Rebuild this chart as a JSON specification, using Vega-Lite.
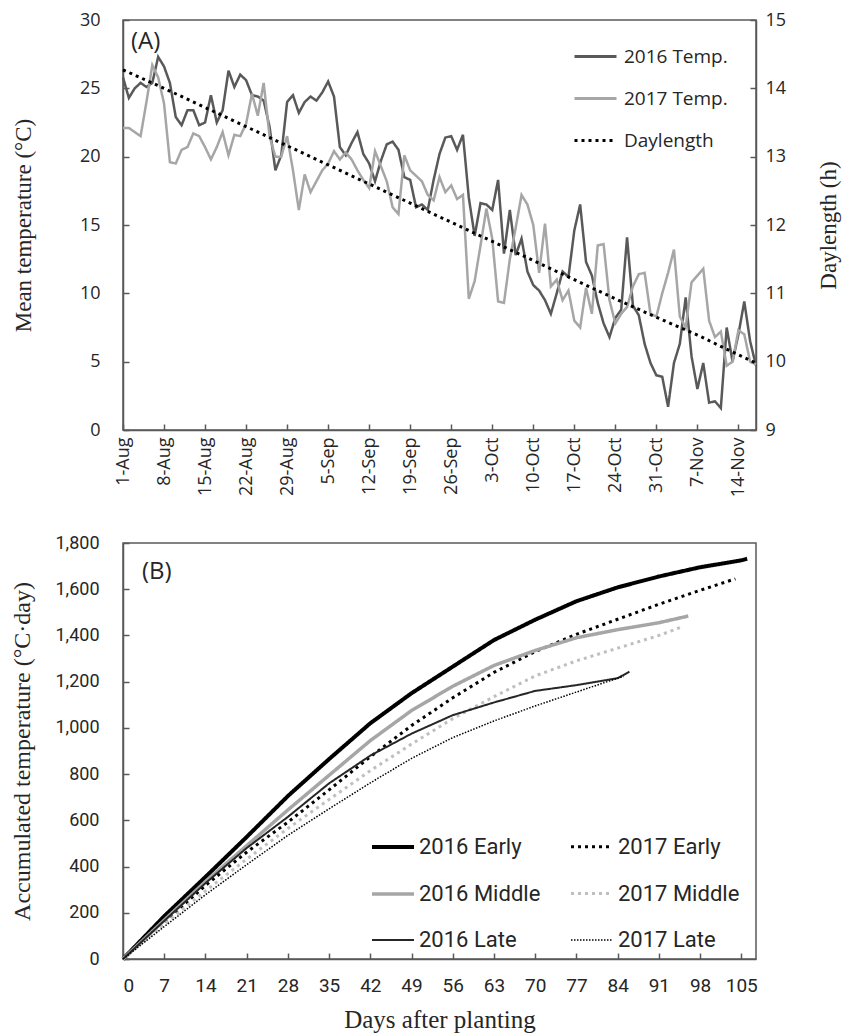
{
"$schema": "https://vega.github.io/schema/vega-lite/v6.json",
"background": "white",
"padding": {"left": 10, "top": 10, "right": 0, "bottom": 0},
"spacing": 113,
"bounds": "flush",
"resolve": {"scale": {"color": "independent", "strokeDash": "independent", "strokeWidth": "independent"}, "legend": {"color": "independent", "strokeDash": "independent", "strokeWidth": "independent"}},
"datasets": {
"temp": [
{"day":0,"series":"2016 Temp.","v":25.8},{"day":1,"series":"2016 Temp.","v":24.3},{"day":2,"series":"2016 Temp.","v":25.0},{"day":3,"series":"2016 Temp.","v":25.4},{"day":4,"series":"2016 Temp.","v":25.1},{"day":5,"series":"2016 Temp.","v":25.4},{"day":6,"series":"2016 Temp.","v":27.3},{"day":7,"series":"2016 Temp.","v":26.6},{"day":8,"series":"2016 Temp.","v":25.4},{"day":9,"series":"2016 Temp.","v":22.9},
{"day":10,"series":"2016 Temp.","v":22.3},{"day":11,"series":"2016 Temp.","v":23.4},{"day":12,"series":"2016 Temp.","v":23.4},{"day":13,"series":"2016 Temp.","v":22.3},{"day":14,"series":"2016 Temp.","v":22.5},{"day":15,"series":"2016 Temp.","v":24.5},{"day":16,"series":"2016 Temp.","v":22.5},{"day":17,"series":"2016 Temp.","v":23.4},{"day":18,"series":"2016 Temp.","v":26.3},{"day":19,"series":"2016 Temp.","v":25.1},
{"day":20,"series":"2016 Temp.","v":26.0},{"day":21,"series":"2016 Temp.","v":25.6},{"day":22,"series":"2016 Temp.","v":24.5},{"day":23,"series":"2016 Temp.","v":24.4},{"day":24,"series":"2016 Temp.","v":24.1},{"day":25,"series":"2016 Temp.","v":22.2},{"day":26,"series":"2016 Temp.","v":19.0},{"day":27,"series":"2016 Temp.","v":20.1},{"day":28,"series":"2016 Temp.","v":24.0},{"day":29,"series":"2016 Temp.","v":24.5},
{"day":30,"series":"2016 Temp.","v":23.2},{"day":31,"series":"2016 Temp.","v":24.0},{"day":32,"series":"2016 Temp.","v":24.4},{"day":33,"series":"2016 Temp.","v":24.1},{"day":34,"series":"2016 Temp.","v":24.7},{"day":35,"series":"2016 Temp.","v":25.5},{"day":36,"series":"2016 Temp.","v":24.4},{"day":37,"series":"2016 Temp.","v":20.7},{"day":38,"series":"2016 Temp.","v":20.1},{"day":39,"series":"2016 Temp.","v":21.0},
{"day":40,"series":"2016 Temp.","v":21.8},{"day":41,"series":"2016 Temp.","v":20.2},{"day":42,"series":"2016 Temp.","v":19.5},{"day":43,"series":"2016 Temp.","v":18.2},{"day":44,"series":"2016 Temp.","v":19.7},{"day":45,"series":"2016 Temp.","v":20.9},{"day":46,"series":"2016 Temp.","v":21.1},{"day":47,"series":"2016 Temp.","v":20.5},{"day":48,"series":"2016 Temp.","v":18.5},{"day":49,"series":"2016 Temp.","v":18.3},
{"day":50,"series":"2016 Temp.","v":16.3},{"day":51,"series":"2016 Temp.","v":16.5},{"day":52,"series":"2016 Temp.","v":16.1},{"day":53,"series":"2016 Temp.","v":18.3},{"day":54,"series":"2016 Temp.","v":20.2},{"day":55,"series":"2016 Temp.","v":21.4},{"day":56,"series":"2016 Temp.","v":21.5},{"day":57,"series":"2016 Temp.","v":20.5},{"day":58,"series":"2016 Temp.","v":21.6},{"day":59,"series":"2016 Temp.","v":17.0},
{"day":60,"series":"2016 Temp.","v":14.2},{"day":61,"series":"2016 Temp.","v":16.6},{"day":62,"series":"2016 Temp.","v":16.5},{"day":63,"series":"2016 Temp.","v":16.1},{"day":64,"series":"2016 Temp.","v":18.3},{"day":65,"series":"2016 Temp.","v":12.9},{"day":66,"series":"2016 Temp.","v":16.1},{"day":67,"series":"2016 Temp.","v":12.8},{"day":68,"series":"2016 Temp.","v":14.0},{"day":69,"series":"2016 Temp.","v":11.6},
{"day":70,"series":"2016 Temp.","v":10.6},{"day":71,"series":"2016 Temp.","v":10.2},{"day":72,"series":"2016 Temp.","v":9.5},{"day":73,"series":"2016 Temp.","v":8.5},{"day":74,"series":"2016 Temp.","v":10.0},{"day":75,"series":"2016 Temp.","v":11.6},{"day":76,"series":"2016 Temp.","v":11.2},{"day":77,"series":"2016 Temp.","v":14.6},{"day":78,"series":"2016 Temp.","v":16.5},{"day":79,"series":"2016 Temp.","v":12.3},
{"day":80,"series":"2016 Temp.","v":11.3},{"day":81,"series":"2016 Temp.","v":9.3},{"day":82,"series":"2016 Temp.","v":7.8},{"day":83,"series":"2016 Temp.","v":6.8},{"day":84,"series":"2016 Temp.","v":8.2},{"day":85,"series":"2016 Temp.","v":8.8},{"day":86,"series":"2016 Temp.","v":14.1},{"day":87,"series":"2016 Temp.","v":9.1},{"day":88,"series":"2016 Temp.","v":8.4},{"day":89,"series":"2016 Temp.","v":6.3},
{"day":90,"series":"2016 Temp.","v":4.9},{"day":91,"series":"2016 Temp.","v":4.0},{"day":92,"series":"2016 Temp.","v":3.9},{"day":93,"series":"2016 Temp.","v":1.7},{"day":94,"series":"2016 Temp.","v":4.9},{"day":95,"series":"2016 Temp.","v":6.3},{"day":96,"series":"2016 Temp.","v":9.7},{"day":97,"series":"2016 Temp.","v":5.4},{"day":98,"series":"2016 Temp.","v":3.0},{"day":99,"series":"2016 Temp.","v":4.9},
{"day":100,"series":"2016 Temp.","v":2.0},{"day":101,"series":"2016 Temp.","v":2.1},{"day":102,"series":"2016 Temp.","v":1.6},{"day":103,"series":"2016 Temp.","v":7.5},{"day":104,"series":"2016 Temp.","v":5.0},{"day":105,"series":"2016 Temp.","v":7.0},{"day":106,"series":"2016 Temp.","v":9.4},{"day":107,"series":"2016 Temp.","v":6.5},{"day":108,"series":"2016 Temp.","v":4.7},
{"day":0,"series":"2017 Temp.","v":22.1},{"day":1,"series":"2017 Temp.","v":22.1},{"day":2,"series":"2017 Temp.","v":21.8},{"day":3,"series":"2017 Temp.","v":21.5},{"day":4,"series":"2017 Temp.","v":24.0},{"day":5,"series":"2017 Temp.","v":26.7},{"day":6,"series":"2017 Temp.","v":25.8},{"day":7,"series":"2017 Temp.","v":23.9},{"day":8,"series":"2017 Temp.","v":19.6},{"day":9,"series":"2017 Temp.","v":19.5},
{"day":10,"series":"2017 Temp.","v":20.5},{"day":11,"series":"2017 Temp.","v":20.7},{"day":12,"series":"2017 Temp.","v":21.7},{"day":13,"series":"2017 Temp.","v":21.5},{"day":14,"series":"2017 Temp.","v":20.7},{"day":15,"series":"2017 Temp.","v":19.8},{"day":16,"series":"2017 Temp.","v":20.7},{"day":17,"series":"2017 Temp.","v":21.8},{"day":18,"series":"2017 Temp.","v":20.1},{"day":19,"series":"2017 Temp.","v":21.6},
{"day":20,"series":"2017 Temp.","v":21.5},{"day":21,"series":"2017 Temp.","v":22.4},{"day":22,"series":"2017 Temp.","v":24.6},{"day":23,"series":"2017 Temp.","v":23.0},{"day":24,"series":"2017 Temp.","v":25.4},{"day":25,"series":"2017 Temp.","v":21.5},{"day":26,"series":"2017 Temp.","v":20.0},{"day":27,"series":"2017 Temp.","v":20.0},{"day":28,"series":"2017 Temp.","v":21.5},{"day":29,"series":"2017 Temp.","v":19.0},
{"day":30,"series":"2017 Temp.","v":16.1},{"day":31,"series":"2017 Temp.","v":18.7},{"day":32,"series":"2017 Temp.","v":17.4},{"day":33,"series":"2017 Temp.","v":18.2},{"day":34,"series":"2017 Temp.","v":19.0},{"day":35,"series":"2017 Temp.","v":19.5},{"day":36,"series":"2017 Temp.","v":20.4},{"day":37,"series":"2017 Temp.","v":19.8},{"day":38,"series":"2017 Temp.","v":20.3},{"day":39,"series":"2017 Temp.","v":19.8},
{"day":40,"series":"2017 Temp.","v":19.0},{"day":41,"series":"2017 Temp.","v":18.3},{"day":42,"series":"2017 Temp.","v":17.7},{"day":43,"series":"2017 Temp.","v":20.4},{"day":44,"series":"2017 Temp.","v":19.3},{"day":45,"series":"2017 Temp.","v":18.2},{"day":46,"series":"2017 Temp.","v":16.3},{"day":47,"series":"2017 Temp.","v":15.8},{"day":48,"series":"2017 Temp.","v":20.1},{"day":49,"series":"2017 Temp.","v":19.0},
{"day":50,"series":"2017 Temp.","v":18.6},{"day":51,"series":"2017 Temp.","v":18.2},{"day":52,"series":"2017 Temp.","v":17.2},{"day":53,"series":"2017 Temp.","v":16.8},{"day":54,"series":"2017 Temp.","v":18.5},{"day":55,"series":"2017 Temp.","v":17.4},{"day":56,"series":"2017 Temp.","v":17.9},{"day":57,"series":"2017 Temp.","v":16.9},{"day":58,"series":"2017 Temp.","v":17.2},{"day":59,"series":"2017 Temp.","v":9.6},
{"day":60,"series":"2017 Temp.","v":10.9},{"day":61,"series":"2017 Temp.","v":13.5},{"day":62,"series":"2017 Temp.","v":16.2},{"day":63,"series":"2017 Temp.","v":14.0},{"day":64,"series":"2017 Temp.","v":9.4},{"day":65,"series":"2017 Temp.","v":9.3},{"day":66,"series":"2017 Temp.","v":12.5},{"day":67,"series":"2017 Temp.","v":14.8},{"day":68,"series":"2017 Temp.","v":17.2},{"day":69,"series":"2017 Temp.","v":16.5},
{"day":70,"series":"2017 Temp.","v":15.0},{"day":71,"series":"2017 Temp.","v":11.5},{"day":72,"series":"2017 Temp.","v":15.1},{"day":73,"series":"2017 Temp.","v":10.5},{"day":74,"series":"2017 Temp.","v":11.0},{"day":75,"series":"2017 Temp.","v":9.5},{"day":76,"series":"2017 Temp.","v":10.2},{"day":77,"series":"2017 Temp.","v":8.0},{"day":78,"series":"2017 Temp.","v":7.5},{"day":79,"series":"2017 Temp.","v":10.4},
{"day":80,"series":"2017 Temp.","v":8.5},{"day":81,"series":"2017 Temp.","v":13.5},{"day":82,"series":"2017 Temp.","v":13.6},{"day":83,"series":"2017 Temp.","v":9.5},{"day":84,"series":"2017 Temp.","v":7.8},{"day":85,"series":"2017 Temp.","v":8.5},{"day":86,"series":"2017 Temp.","v":9.0},{"day":87,"series":"2017 Temp.","v":10.5},{"day":88,"series":"2017 Temp.","v":11.4},{"day":89,"series":"2017 Temp.","v":11.5},
{"day":90,"series":"2017 Temp.","v":8.5},{"day":91,"series":"2017 Temp.","v":8.3},{"day":92,"series":"2017 Temp.","v":10.0},{"day":93,"series":"2017 Temp.","v":11.5},{"day":94,"series":"2017 Temp.","v":13.2},{"day":95,"series":"2017 Temp.","v":8.3},{"day":96,"series":"2017 Temp.","v":7.5},{"day":97,"series":"2017 Temp.","v":10.8},{"day":98,"series":"2017 Temp.","v":11.3},{"day":99,"series":"2017 Temp.","v":11.8},
{"day":100,"series":"2017 Temp.","v":8.0},{"day":101,"series":"2017 Temp.","v":6.8},{"day":102,"series":"2017 Temp.","v":7.2},{"day":103,"series":"2017 Temp.","v":4.7},{"day":104,"series":"2017 Temp.","v":5.0},{"day":105,"series":"2017 Temp.","v":7.3},{"day":106,"series":"2017 Temp.","v":7.0},{"day":107,"series":"2017 Temp.","v":5.0},{"day":108,"series":"2017 Temp.","v":4.8}
],
"daylen": [
{"day":0,"series":"Daylength","h":14.27},{"day":7,"series":"Daylength","h":14.0},{"day":14,"series":"Daylength","h":13.72},{"day":21,"series":"Daylength","h":13.44},{"day":28,"series":"Daylength","h":13.16},{"day":35,"series":"Daylength","h":12.88},{"day":42,"series":"Daylength","h":12.6},{"day":49,"series":"Daylength","h":12.32},{"day":56,"series":"Daylength","h":12.04},{"day":63,"series":"Daylength","h":11.76},{"day":70,"series":"Daylength","h":11.48},{"day":77,"series":"Daylength","h":11.2},{"day":84,"series":"Daylength","h":10.92},{"day":91,"series":"Daylength","h":10.65},{"day":98,"series":"Daylength","h":10.39},{"day":105,"series":"Daylength","h":10.1},{"day":108,"series":"Daylength","h":9.98}
],
"accum": [
{"day":0,"series":"2016 Early","acc":0},{"day":7,"series":"2016 Early","acc":185},{"day":14,"series":"2016 Early","acc":355},{"day":21,"series":"2016 Early","acc":528},{"day":28,"series":"2016 Early","acc":705},{"day":35,"series":"2016 Early","acc":865},{"day":42,"series":"2016 Early","acc":1020},{"day":49,"series":"2016 Early","acc":1150},{"day":56,"series":"2016 Early","acc":1265},{"day":63,"series":"2016 Early","acc":1380},{"day":70,"series":"2016 Early","acc":1468},{"day":77,"series":"2016 Early","acc":1548},{"day":84,"series":"2016 Early","acc":1608},{"day":91,"series":"2016 Early","acc":1655},{"day":98,"series":"2016 Early","acc":1695},{"day":105,"series":"2016 Early","acc":1725},{"day":106,"series":"2016 Early","acc":1732},
{"day":0,"series":"2017 Early","acc":0},{"day":7,"series":"2017 Early","acc":160},{"day":14,"series":"2017 Early","acc":318},{"day":21,"series":"2017 Early","acc":462},{"day":28,"series":"2017 Early","acc":592},{"day":35,"series":"2017 Early","acc":732},{"day":42,"series":"2017 Early","acc":875},{"day":49,"series":"2017 Early","acc":1010},{"day":56,"series":"2017 Early","acc":1130},{"day":63,"series":"2017 Early","acc":1240},{"day":70,"series":"2017 Early","acc":1330},{"day":77,"series":"2017 Early","acc":1405},{"day":84,"series":"2017 Early","acc":1470},{"day":91,"series":"2017 Early","acc":1535},{"day":98,"series":"2017 Early","acc":1595},{"day":104,"series":"2017 Early","acc":1645},
{"day":0,"series":"2016 Middle","acc":0},{"day":7,"series":"2016 Middle","acc":168},{"day":14,"series":"2016 Middle","acc":335},{"day":21,"series":"2016 Middle","acc":490},{"day":28,"series":"2016 Middle","acc":645},{"day":35,"series":"2016 Middle","acc":795},{"day":42,"series":"2016 Middle","acc":945},{"day":49,"series":"2016 Middle","acc":1075},{"day":56,"series":"2016 Middle","acc":1180},{"day":63,"series":"2016 Middle","acc":1270},{"day":70,"series":"2016 Middle","acc":1335},{"day":77,"series":"2016 Middle","acc":1390},{"day":84,"series":"2016 Middle","acc":1425},{"day":91,"series":"2016 Middle","acc":1455},{"day":96,"series":"2016 Middle","acc":1484},
{"day":0,"series":"2017 Middle","acc":0},{"day":7,"series":"2017 Middle","acc":150},{"day":14,"series":"2017 Middle","acc":295},{"day":21,"series":"2017 Middle","acc":432},{"day":28,"series":"2017 Middle","acc":565},{"day":35,"series":"2017 Middle","acc":690},{"day":42,"series":"2017 Middle","acc":815},{"day":49,"series":"2017 Middle","acc":930},{"day":56,"series":"2017 Middle","acc":1040},{"day":63,"series":"2017 Middle","acc":1135},{"day":70,"series":"2017 Middle","acc":1225},{"day":77,"series":"2017 Middle","acc":1290},{"day":84,"series":"2017 Middle","acc":1345},{"day":91,"series":"2017 Middle","acc":1400},{"day":95,"series":"2017 Middle","acc":1438},
{"day":0,"series":"2016 Late","acc":0},{"day":7,"series":"2016 Late","acc":165},{"day":14,"series":"2016 Late","acc":328},{"day":21,"series":"2016 Late","acc":480},{"day":28,"series":"2016 Late","acc":615},{"day":35,"series":"2016 Late","acc":760},{"day":42,"series":"2016 Late","acc":880},{"day":49,"series":"2016 Late","acc":975},{"day":56,"series":"2016 Late","acc":1055},{"day":63,"series":"2016 Late","acc":1110},{"day":70,"series":"2016 Late","acc":1160},{"day":77,"series":"2016 Late","acc":1185},{"day":84,"series":"2016 Late","acc":1215},{"day":86,"series":"2016 Late","acc":1243},
{"day":0,"series":"2017 Late","acc":0},{"day":7,"series":"2017 Late","acc":140},{"day":14,"series":"2017 Late","acc":278},{"day":21,"series":"2017 Late","acc":408},{"day":28,"series":"2017 Late","acc":535},{"day":35,"series":"2017 Late","acc":650},{"day":42,"series":"2017 Late","acc":762},{"day":49,"series":"2017 Late","acc":868},{"day":56,"series":"2017 Late","acc":958},{"day":63,"series":"2017 Late","acc":1030},{"day":70,"series":"2017 Late","acc":1095},{"day":77,"series":"2017 Late","acc":1155},{"day":84,"series":"2017 Late","acc":1215},{"day":85,"series":"2017 Late","acc":1222}
]
},
"vconcat": [
{
"width": 633, "height": 410,
"title": {"text": "(A)", "anchor": "start", "frame": "group", "offset": -43, "dx": 8, "font": "Open Sans", "fontSize": 24, "fontWeight": "normal", "color": "#262626"},
"layer": [
{
"data": {"name": "temp"},
"mark": {"type": "line", "strokeWidth": 2.5},
"encoding": {
"x": {"field": "day", "type": "quantitative", "scale": {"domain": [0, 108], "nice": false, "zero": false},
 "axis": {"values": [0,7,14,21,28,35,42,49,56,63,70,77,84,91,98,105], "labelExpr": "timeFormat(datetime(2016,7,1+datum.value),'%-d-%b')", "labelAngle": 270, "labelPadding": 13, "title": null, "labelFont": "Open Sans", "labelFontSize": 18}},
"y": {"field": "v", "type": "quantitative", "scale": {"domain": [0, 30], "nice": false},
 "axis": {"values": [0,5,10,15,20,25,30], "title": "Mean temperature (°C)", "titleFontSize": 23, "labelFont": "Open Sans", "labelFontSize": 18, "labelPadding": 29, "titlePadding": 44}},
"color": {"field": "series", "type": "nominal", "scale": {"domain": ["2016 Temp.", "2017 Temp.", "Daylength"], "range": ["#595959", "#a6a6a6", "#000000"]},
 "legend": {"orient": "none", "legendX": 450, "legendY": 14, "title": null, "symbolType": "stroke", "symbolSize": 1764, "symbolStrokeWidth": 3, "labelFont": "Open Sans", "labelFontSize": 19, "labelColor": "#262626", "labelOffset": 6, "rowPadding": 9}},
"strokeDash": {"field": "series", "type": "nominal", "scale": {"domain": ["2016 Temp.", "2017 Temp.", "Daylength"], "range": [[1,0],[1,0],[3,4]]},
 "legend": {"orient": "none", "legendX": 450, "legendY": 14, "title": null, "symbolType": "stroke", "symbolSize": 1764, "symbolStrokeWidth": 3, "labelFont": "Open Sans", "labelFontSize": 19, "labelColor": "#262626", "labelOffset": 6, "rowPadding": 9}}
}
},
{
"data": {"name": "daylen"},
"mark": {"type": "line", "strokeWidth": 3},
"encoding": {
"x": {"field": "day", "type": "quantitative", "scale": {"domain": [0, 108], "nice": false, "zero": false},
 "axis": {"values": [0,7,14,21,28,35,42,49,56,63,70,77,84,91,98,105], "labelExpr": "timeFormat(datetime(2016,7,1+datum.value),'%-d-%b')", "labelAngle": 270, "labelPadding": 13, "title": null, "labelFont": "Open Sans", "labelFontSize": 18}},
"y": {"field": "h", "type": "quantitative", "scale": {"domain": [9, 15], "nice": false, "zero": false},
 "axis": {"orient": "right", "values": [9,10,11,12,13,14,15], "title": "Daylength (h)", "titleFontSize": 23, "titleAngle": 270, "titleBaseline": "top", "labelFont": "Open Sans", "labelFontSize": 18, "labelPadding": 15, "titlePadding": 32}},
"color": {"field": "series", "type": "nominal"},
"strokeDash": {"field": "series", "type": "nominal"}
}
}
],
"resolve": {"scale": {"y": "independent"}}
},
{
"width": 633, "height": 416,
"title": {"text": "(B)", "anchor": "start", "frame": "group", "offset": -50, "dx": 19, "font": "Open Sans", "fontSize": 24, "fontWeight": "normal", "color": "#262626"},
"data": {"name": "accum"},
"mark": {"type": "line"},
"encoding": {
"x": {"field": "day", "type": "quantitative", "scale": {"domain": [0, 107.5], "nice": false, "zero": false},
 "axis": {"values": [0,7,14,21,28,35,42,49,56,63,70,77,84,91,98,105], "labelAngle": 0, "labelPadding": 23, "title": "Days after planting", "titleFontSize": 25, "titlePadding": 12, "labelFont": "Roboto", "labelFontSize": 19}},
"y": {"field": "acc", "type": "quantitative", "scale": {"domain": [0, 1800], "nice": false},
 "axis": {"values": [0,200,400,600,800,1000,1200,1400,1600,1800], "format": ",d", "title": "Accumulated temperature (°C·day)", "titleFontSize": 24, "labelFont": "Roboto", "labelFontSize": 18, "labelPadding": 30, "titlePadding": 20}},
"color": {"field": "series", "type": "nominal", "scale": {"domain": ["2016 Early","2016 Middle","2016 Late","2017 Early","2017 Middle","2017 Late"], "range": ["#000000","#a6a6a6","#262626","#000000","#bfbfbf","#000000"]},
 "legend": {"orient": "none", "legendX": 247, "legendY": 281, "columns": 2, "columnPadding": 24, "title": null, "symbolType": "stroke", "symbolSize": 1764, "labelFont": "Roboto", "labelFontSize": 22, "labelColor": "#262626", "labelOffset": 3, "rowPadding": 13}},
"strokeDash": {"field": "series", "type": "nominal", "scale": {"domain": ["2016 Early","2016 Middle","2016 Late","2017 Early","2017 Middle","2017 Late"], "range": [[1,0],[1,0],[1,0],[3,4],[3,4],[1.5,1.5]]},
 "legend": {"orient": "none", "legendX": 247, "legendY": 281, "columns": 2, "columnPadding": 24, "title": null, "symbolType": "stroke", "symbolSize": 1764, "labelFont": "Roboto", "labelFontSize": 22, "labelColor": "#262626", "labelOffset": 3, "rowPadding": 13}},
"strokeWidth": {"field": "series", "type": "nominal", "scale": {"type": "ordinal", "domain": ["2016 Early","2016 Middle","2016 Late","2017 Early","2017 Middle","2017 Late"], "range": [4,3.5,2,3,3,1.5]},
 "legend": {"orient": "none", "legendX": 247, "legendY": 281, "columns": 2, "columnPadding": 24, "title": null, "symbolType": "stroke", "symbolSize": 1764, "labelFont": "Roboto", "labelFontSize": 22, "labelColor": "#262626", "labelOffset": 3, "rowPadding": 13}}
}
}
],
"config": {
"view": {"stroke": "#595959", "strokeWidth": 1.5},
"axis": {"grid": false, "domainColor": "#595959", "domainWidth": 1.5, "tickColor": "#595959", "tickWidth": 1.5, "tickSize": -6, "labelColor": "#262626", "titleColor": "#262626", "titleFont": "Liberation Serif", "titleFontWeight": "normal", "titleFontSize": 20}
}
}
